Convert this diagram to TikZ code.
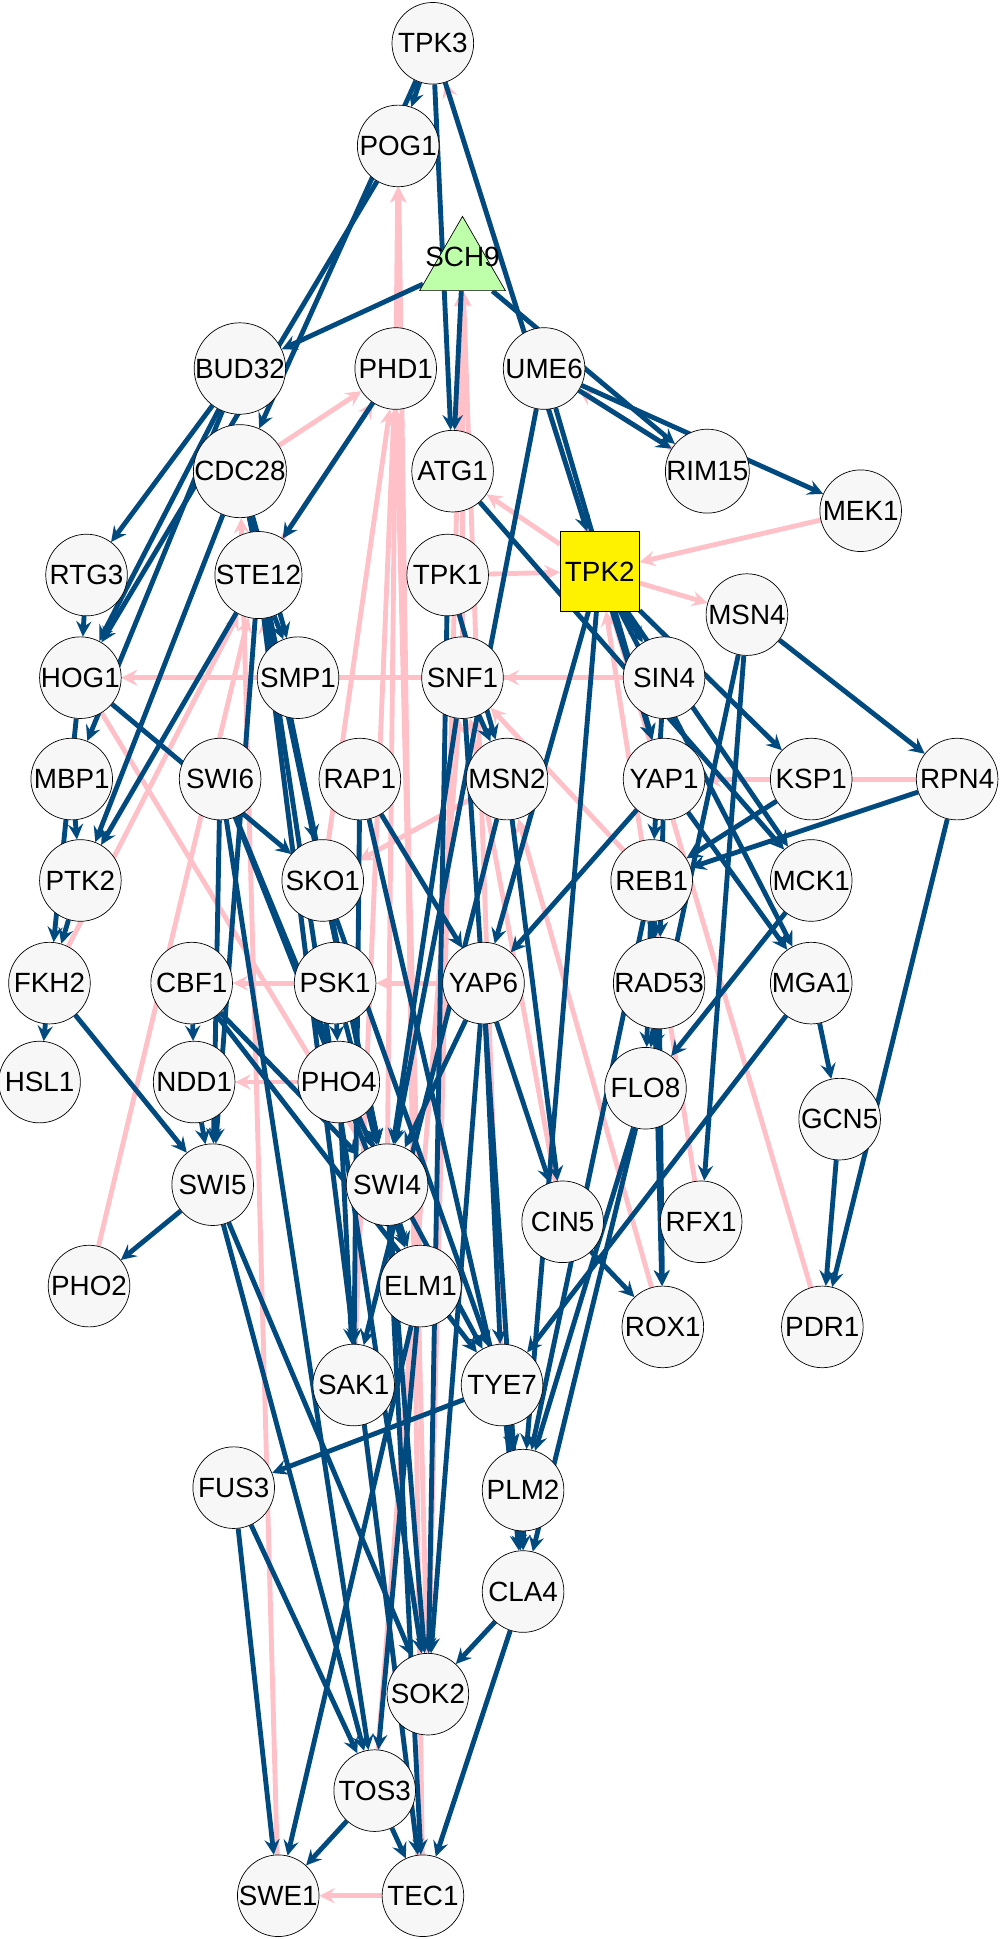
\documentclass[tikz,border=0pt]{standalone}
\usepackage{fontspec}
\setmainfont{Liberation Sans}
\usetikzlibrary{shapes.geometric, arrows, backgrounds}
\definecolor{actblue}{RGB}{0,74,128}
\definecolor{inhpink}{RGB}{255,192,200}
\tikzstyle{gene} = [circle,draw,thin,fill={rgb,255:red,247;green,247;blue,247},minimum size=1.65cm,inner sep=0pt,font=\fontsize{16}{16}\selectfont]
\tikzstyle{act} = [actblue,line width=2.8pt,->,>=stealth]
\tikzstyle{inh} = [inhpink,line width=2.8pt,->,>=stealth]

\begin{document}
\begin{tikzpicture}[x=0.025cm,y=-0.025cm]
				\useasboundingbox (0,0) rectangle (808,1568);
				
				%Nodes
				\foreach \n/\x/\y in {TPK3/350/35, POG1/322/118, BUD32/194/298, PHD1/320/298, UME6/440/298,
					CDC28/194/381, ATG1/366/381, RIM15/572/381, MEK1/696/413, RTG3/70/465, STE12/209/465,
					TPK1/362/465, MSN4/604/497, HOG1/65/548, SMP1/241/548, SNF1/374/548, SIN4/537/548,
					MBP1/58/630, SWI6/178/630, RAP1/291/630, MSN2/410/630, YAP1/537/630, KSP1/656/630,
					RPN4/774/630, PTK2/65/712, SKO1/261/712, REB1/527/712, MCK1/656/712, FKH2/40/795,
					CBF1/155/795, PSK1/271/795, YAP6/391/795, RAD53/533/795, MGA1/656/795, HSL1/32/875,
					NDD1/157/875, PHO4/274/875, FLO8/522/880, GCN5/679/905, SWI5/172/958, SWI4/313/958,
					CIN5/455/988, RFX1/567/988, PHO2/72/1040, ELM1/340/1040, ROX1/536/1073, PDR1/665/1073,
					SAK1/286/1120, TYE7/406/1120, FUS3/189/1203, PLM2/423/1205, CLA4/423/1287,
					SOK2/346/1370, TOS3/303/1448, SWE1/225/1533, TEC1/342/1533}
					\node[gene] (\n) at (\x,\y) {\n};
				\node[regular polygon,regular polygon sides=3,draw,thin,fill={rgb,255:red,190;green,255;blue,170},minimum size=2cm,inner sep=0pt] (SCH9) at (374,215) {};
				\node[font=\fontsize{16}{16}\selectfont] (SCH9label) at (374,208) {SCH9};
				\node[draw,thin,fill=yellow,minimum size=1.6cm,inner sep=0pt,font=\fontsize{16}{16}\selectfont] (TPK2) at (485,462) {TPK2};
				
				\begin{scope}[on background layer]
				%Inhibitions
				\foreach \a/\b in {TPK2/TPK3, TEC1/POG1, SWI4/POG1, CDC28/PHD1, STE12/PHD1, SKO1/PHD1,
					TYE7/SCH9, SOK2/SCH9, SNF1/SCH9, TPK2/ATG1, TPK1/TPK2, MEK1/TPK2, RIM15/UME6,
					TPK2/MSN4, SMP1/HOG1, SIN4/SNF1, REB1/SNF1, KSP1/YAP1, RPN4/YAP1, PDR1/TPK2,
					RFX1/TPK2, ROX1/MSN2, PHO2/STE12, FKH2/STE12, YAP6/PSK1, PSK1/CBF1, HOG1/SWI4,
					TEC1/SWE1, SOK2/PHD1, TEC1/STE12, SWE1/CDC28, TOS3/SNF1, ELM1/PHD1, SAK1/PHD1,
					MSN2/SKO1, SIN4/HOG1, PHO4/NDD1, CIN5/SNF1}
					\draw[inh] (\a) -- (\b);
				
				%Activations
				\foreach \a/\b in {TPK3/POG1, TPK3/CDC28, TPK3/ATG1, TPK3/TPK2, POG1/HOG1, SCH9/BUD32,
					SCH9/RIM15, UME6/MEK1, SCH9/ATG1, BUD32/RTG3, BUD32/HOG1, BUD32/MBP1, PHD1/STE12,
					UME6/RIM15, UME6/SWI4, UME6/YAP1, CDC28/SMP1, CDC28/SKO1, CDC28/PTK2, CDC28/SWI4,
					ATG1/MCK1, RTG3/HOG1, STE12/SWI5, STE12/SWI4, STE12/SOK2, STE12/TEC1, STE12/PTK2,
					STE12/SMP1, TPK1/MSN2, TPK1/SOK2, TPK2/KSP1, TPK2/MCK1, TPK2/MGA1, TPK2/YAP1,
					TPK2/PLM2, TPK2/YAP6, TPK2/SIN4, MSN4/RPN4, MSN4/FLO8, MSN4/RFX1, HOG1/SKO1,
					HOG1/FKH2, SNF1/MSN2, SNF1/SWI4, SNF1/CLA4, SIN4/REB1, MBP1/PTK2, SWI6/SWI5,
					SWI6/SWI4, SWI6/ELM1, SWI6/TOS3, RAP1/YAP6, RAP1/SAK1, RAP1/PLM2, MSN2/CIN5,
					MSN2/SAK1, YAP1/YAP6, YAP1/RAD53, YAP1/MGA1, KSP1/REB1, RPN4/REB1, RPN4/PDR1,
					PTK2/FKH2, SKO1/SWI4, SKO1/TYE7, REB1/RAD53, REB1/FLO8, REB1/ROX1, REB1/PLM2,
					MCK1/FLO8, FKH2/HSL1, FKH2/SWI5, CBF1/NDD1, CBF1/SWI4, CBF1/TYE7, PSK1/PHO4,
					PSK1/SWI4, YAP6/CIN5, YAP6/TYE7, YAP6/SOK2, YAP6/SWI4, RAD53/FLO8, RAD53/ROX1,
					MGA1/GCN5, MGA1/TYE7, GCN5/PDR1, NDD1/SWI5, PHO4/SAK1, PHO4/TYE7, FLO8/PLM2,
					FLO8/CLA4, SWI5/PHO2, SWI5/TOS3, SWI5/SOK2, SWI4/ELM1, SWI4/SOK2, SWI4/TEC1,
					CIN5/ROX1, ELM1/TOS3, ELM1/SWE1, TYE7/FUS3, TYE7/PLM2, TYE7/CLA4, FUS3/SWE1,
					FUS3/TOS3, PLM2/CLA4, CLA4/SOK2, CLA4/TEC1, TOS3/SWE1, TOS3/TEC1}
					\draw[act] (\a) -- (\b);
				\end{scope}
				
			\end{tikzpicture}
\end{document}
